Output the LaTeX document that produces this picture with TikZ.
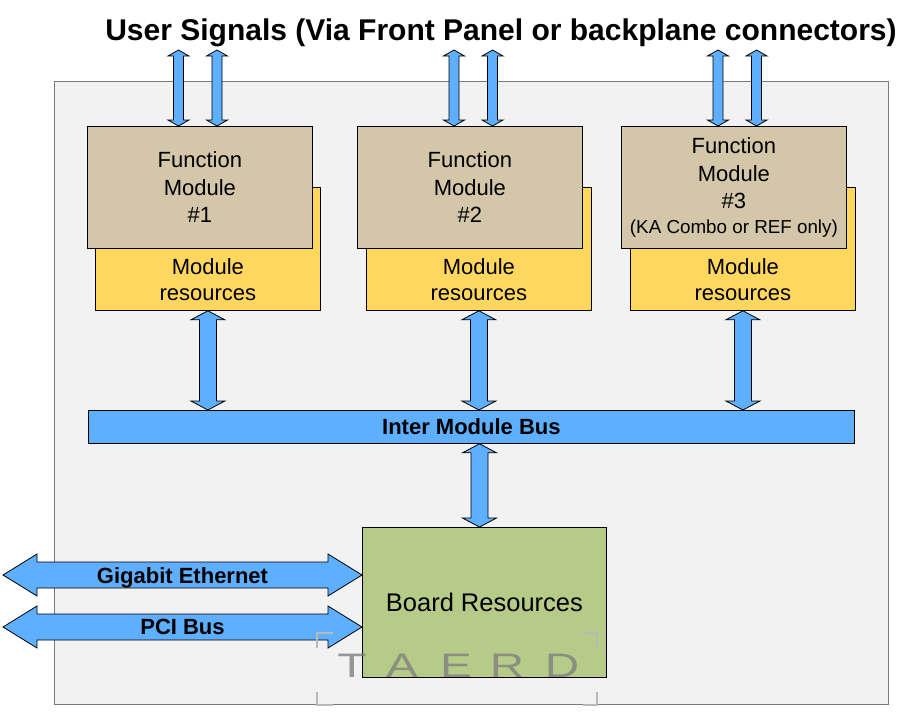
\documentclass[tikz,border=0pt]{standalone}
\usepackage{fontspec}
\setmainfont{Liberation Sans}
\usetikzlibrary{calc}
\definecolor{bggray}{HTML}{F2F2F2}
\definecolor{framegray}{HTML}{7A7A7A}
\definecolor{fmtan}{HTML}{D4C7A9}
\definecolor{mryellow}{HTML}{FFD75F}
\definecolor{busblue}{HTML}{5FAFFF}
\definecolor{brdgreen}{HTML}{B7CB88}
\newcommand\vdarrow[5]{%
  \draw[busarrow] let \p1=#1, \p2=#2 in
    (\x1,\y1) -- (\x1+#4,\y1-#5) -- (\x1+#3,\y1-#5) -- (\x1+#3,\y2+#5) --
    (\x1+#4,\y2+#5) -- (\x1,\y2) -- (\x1-#4,\y2+#5) -- (\x1-#3,\y2+#5) --
    (\x1-#3,\y1-#5) -- (\x1-#4,\y1-#5) -- cycle;}
\newcommand\hdarrow[5]{%
  \draw[busarrow] let \p1=#1, \p2=#2 in
    (\x1,\y1) -- (\x1+#5,\y1+#4) -- (\x1+#5,\y1+#3) -- (\x2-#5,\y1+#3) --
    (\x2-#5,\y1+#4) -- (\x2,\y1) -- (\x2-#5,\y1-#4) -- (\x2-#5,\y1-#3) --
    (\x1+#5,\y1-#3) -- (\x1+#5,\y1-#4) -- cycle;}
\tikzset{
  box/.style={draw=black, line width=0.8pt, inner sep=0pt, align=center, anchor=north west},
  fmbox/.style={box, fill=fmtan, minimum width=225pt, minimum height=122pt,
    font=\fontsize{22}{27.5}\selectfont},
  mrbox/.style={box, fill=mryellow, minimum width=225pt, minimum height=123pt},
  mrtext/.style={align=center, inner sep=0pt, font=\fontsize{22}{26.5}\selectfont},
  busarrow/.style={draw=black, line width=0.8pt, fill=busblue, line join=miter},
  lbl/.style={inner sep=0pt, anchor=base, font=\fontsize{22}{26}\selectfont\bfseries},
  wm/.style={inner sep=0pt, anchor=base, text=gray, opacity=0.8, xscale=1.4,
    font=\fontsize{34}{34}\selectfont},
  wmcorner/.style={draw=gray!55, line width=1.6pt},
}
\begin{document}
\begin{tikzpicture}[x=1pt,y=-1pt]
\useasboundingbox[fill=white] (0,0) rectangle (917,720);
% frame
\node[draw=framegray, line width=1.4pt, fill=bggray, anchor=north west, inner sep=0pt,
  minimum width=834pt, minimum height=623pt] (frame) at (54,81) {};
% title
\node[anchor=base, inner sep=0pt, font=\fontsize{30}{34}\selectfont\bfseries] (title) at (501,40)
  {User Signals (Via Front Panel or backplane connectors)};
% module resources
\node[mrbox] (mr1) at (95,187) {};
\node[mrbox] (mr2) at (366,187) {};
\node[mrbox] (mr3) at (630,187) {};
\node[mrtext] (mr1t) at ($(mr1.south)+(0,-31)$) {Module\\resources};
\node[mrtext] (mr2t) at ($(mr2.south)+(0,-31)$) {Module\\resources};
\node[mrtext] (mr3t) at ($(mr3.south)+(0,-31)$) {Module\\resources};
% function modules
\node[fmbox] (fm1) at (87,126) {Function\\Module\\\#1};
\node[fmbox] (fm2) at (357,126) {Function\\Module\\\#2};
\node[fmbox] (fm3) at (621,126) {Function\\Module\\\#3\\[-3pt]{\fontsize{18.8}{22}\selectfont(KA Combo or REF only)}};
% bus and board
\node[box, fill=busblue, minimum width=766pt, minimum height=33pt,
  font=\fontsize{22}{26}\selectfont\bfseries] (bus) at (88,410) {Inter Module Bus};
\node[box, fill=brdgreen, minimum width=244pt, minimum height=150pt,
  font=\fontsize{25.5}{30}\selectfont] (brd) at (362,527) {Board Resources};
% user signal arrows
\coordinate (u11) at (178.5,50);
\coordinate (u12) at (217,50);
\coordinate (u21) at (454,50);
\coordinate (u22) at (492.5,50);
\coordinate (u31) at (718,50);
\coordinate (u32) at (756.5,50);
\vdarrow{(u11)}{(u11 |- fm1.north)}{5pt}{10.5pt}{6pt}
\vdarrow{(u12)}{(u12 |- fm1.north)}{5pt}{10.5pt}{6pt}
\vdarrow{(u21)}{(u21 |- fm2.north)}{5pt}{10.5pt}{6pt}
\vdarrow{(u22)}{(u22 |- fm2.north)}{5pt}{10.5pt}{6pt}
\vdarrow{(u31)}{(u31 |- fm3.north)}{5pt}{10.5pt}{6pt}
\vdarrow{(u32)}{(u32 |- fm3.north)}{5pt}{10.5pt}{6pt}
% resources to bus
\vdarrow{(mr1.south)}{(mr1.south |- bus.north)}{8.5pt}{17pt}{9pt}
\vdarrow{(mr2.south)}{(mr2.south |- bus.north)}{8.5pt}{17pt}{9pt}
\vdarrow{(mr3.south)}{(mr3.south |- bus.north)}{8.5pt}{17pt}{9pt}
% bus to board
\coordinate (bb) at (479.5,0);
\vdarrow{(bus.south -| bb)}{(brd.north -| bb)}{8.5pt}{17pt}{9pt}
% external links
\coordinate (ge0) at (3,575);
\coordinate (pci0) at (3,627);
\hdarrow{(ge0)}{(brd.west |- ge0)}{13pt}{21pt}{34pt}
\hdarrow{(pci0)}{(brd.west |- pci0)}{13pt}{21pt}{34pt}
\node[lbl] (gel) at (182.5,583) {Gigabit Ethernet};
\node[lbl] (pcil) at (182.5,634) {PCI Bus};
% watermark
\node[wm] (wT) at (352,677) {T};
\node[wm] (wA) at (402,677) {A};
\node[wm] (wE) at (456,677) {E};
\node[wm] (wR) at (507,677) {R};
\node[wm] (wD) at (562,677) {D};
\draw[wmcorner] (333,633) -- (317,633) -- (317,648);
\draw[wmcorner] (583,633) -- (597,633) -- (597,647);
\draw[wmcorner] (317,692) -- (317,705) -- (333,705);
\draw[wmcorner] (597,692) -- (597,705) -- (583,705);
\end{tikzpicture}
\end{document}
